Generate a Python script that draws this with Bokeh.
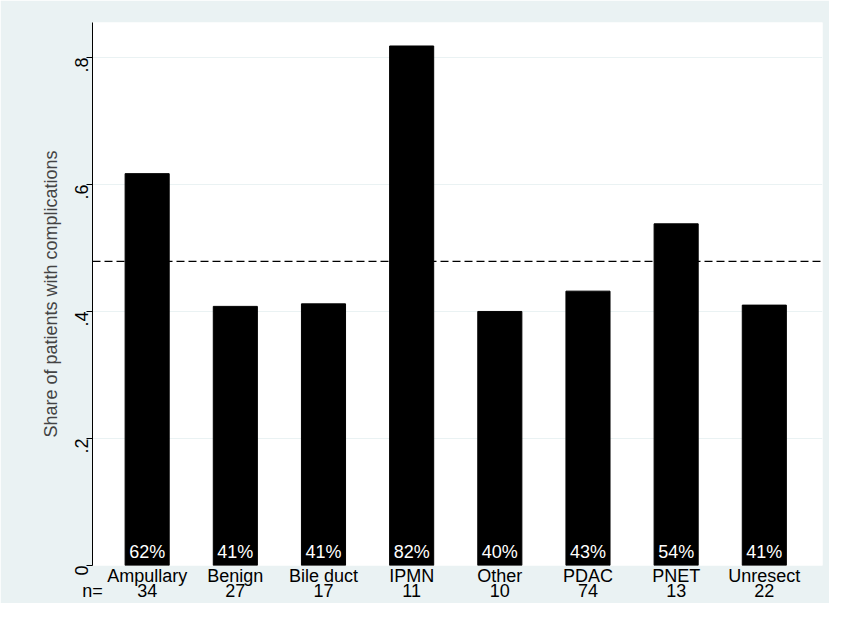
from bokeh.plotting import figure
from bokeh.models import ColumnDataSource, Span, LinearAxis, Range1d, FixedTicker
from bokeh.core.properties import value
from bokeh.embed import file_html
from bokeh.resources import INLINE

categories = ["Ampullary", "Benign", "Bile duct", "IPMN", "Other", "PDAC", "PNET", "Unresect"]
counts = [34, 27, 17, 11, 10, 74, 13, 22]
shares = [0.617, 0.408, 0.412, 0.818, 0.400, 0.432, 0.538, 0.410]
overall = 0.479
pct_labels = ["62%", "41%", "41%", "82%", "40%", "43%", "54%", "41%"]

FONT = "Liberation Sans"
BG = "#EAF2F3"
FS = "18px"
X0, X1 = -0.62, 7.66

xs = list(range(len(categories)))
src = ColumnDataSource(dict(x=xs, top=shares, lab=pct_labels, y0=[0.006] * len(xs)))

p = figure(width=829, height=603, output_backend="svg", toolbar_location=None,
           x_range=(X0, X1), y_range=(0, 0.855),
           min_border_left=92, min_border_top=22, min_border_right=7, min_border_bottom=30)
p.border_fill_color = BG
p.background_fill_color = "white"
p.outline_line_color = None

p.vbar(x="x", top="top", width=0.5, source=src, color="black")
p.text(x="x", y="y0", text="lab", source=src, text_color="white", text_align="center",
       text_baseline="bottom", text_font=value(FONT), text_font_size=FS)
p.add_layout(Span(location=overall, dimension="width", line_color="black",
                  line_dash="8 4", line_width=1.3))

p.xgrid.visible = False
p.ygrid.ticker = [0.2, 0.4, 0.6, 0.8]
p.ygrid.grid_line_color = "#EAF2F3"

p.yaxis.ticker = [0, 0.2, 0.4, 0.6, 0.8]
p.yaxis.major_label_overrides = {0: "0", 0.2: ".2", 0.4: ".4", 0.6: ".6", 0.8: ".8"}
p.yaxis.major_label_orientation = 1.5708
p.yaxis.axis_label = "Share of patients with complications"
p.yaxis.axis_label_text_font = FONT
p.yaxis.axis_label_text_font_style = "normal"
p.yaxis.axis_label_text_font_size = FS
p.yaxis.major_label_text_font = FONT
p.yaxis.major_label_text_font_size = FS
p.yaxis.major_label_text_color = "black"
p.yaxis.minor_tick_line_color = None
p.yaxis.major_tick_out = 6
p.yaxis.major_tick_in = 0


def style_x(ax):
    ax.major_label_text_font = FONT
    ax.major_label_text_font_size = FS
    ax.major_label_text_color = "black"
    ax.major_tick_line_color = None
    ax.minor_tick_line_color = None
    ax.axis_line_color = None
    ax.major_tick_out = 0
    ax.major_tick_in = 0


p.xaxis.ticker = xs
p.xaxis.major_label_overrides = {i: c for i, c in enumerate(categories)}
p.xaxis.major_label_standoff = 0
style_x(p.xaxis[0])

p.extra_x_ranges = {"n": Range1d(X0, X1)}
n_axis = LinearAxis(x_range_name="n", ticker=FixedTicker(ticks=[X0 + 0.001] + xs))
n_axis.major_label_overrides = {X0 + 0.001: "n=", **{i: str(n) for i, n in enumerate(counts)}}
n_axis.major_label_standoff = -8
style_x(n_axis)
p.add_layout(n_axis, "below")

open("out.html", "w").write(file_html(p, INLINE))
